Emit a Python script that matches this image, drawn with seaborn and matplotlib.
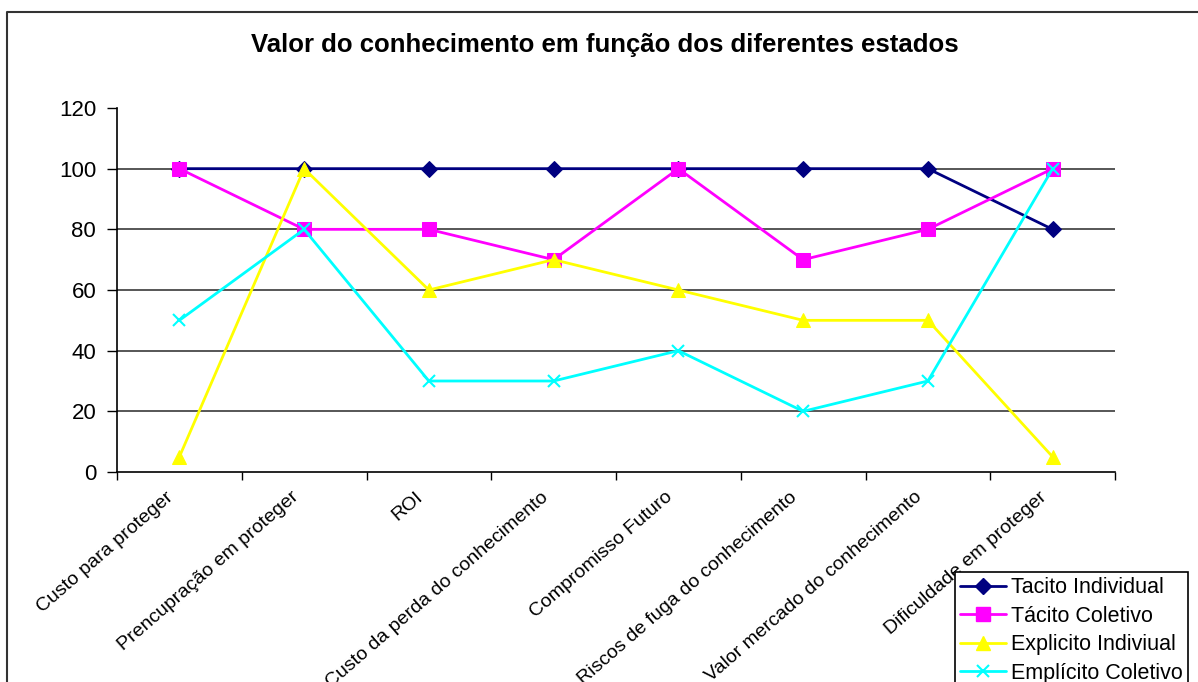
import numpy as np
import pandas as pd
import matplotlib
matplotlib.use("Agg")
import matplotlib.pyplot as plt
import matplotlib.transforms as mtransforms
from matplotlib.lines import Line2D
import seaborn as sns

categories = ["Custo para proteger", "Prencupração em proteger", "ROI",
              "Custo da perda do conhecimento", "Compromisso Futuro",
              "Riscos de fuga do conhecimento", "Valor mercado do conhecimento",
              "Dificuldade em proteger"]
tacito_individual = [100, 100, 100, 100, 100, 100, 100, 80]
tacito_coletivo = [100, 80, 80, 70, 100, 70, 80, 100]
explicito_individual = [5, 100, 60, 70, 60, 50, 50, 5]
emplicito_coletivo = [50, 80, 30, 30, 40, 20, 30, 100]
series_names = ["Tacito Individual", "Tácito Coletivo", "Explicito Indiviual", "Emplícito Coletivo"]
series_values = [tacito_individual, tacito_coletivo, explicito_individual, emplicito_coletivo]
y_ticks = [0, 20, 40, 60, 80, 100, 120]
title = "Valor do conhecimento em função dos diferentes estados"

colors = ["#000080", "#FF00FF", "#FFFF00", "#00FFFF"]
markers = ["D", "s", "^", "x"]
msizes = [8, 10, 10, 9]

sns.set_style("white")
plt.rcParams['font.family'] = ['Liberation Sans', 'DejaVu Sans']
plt.rcParams['text.color'] = 'black'
plt.rcParams['xtick.color'] = 'black'
plt.rcParams['ytick.color'] = 'black'
plt.rcParams['xtick.labelcolor'] = 'black'
plt.rcParams['ytick.labelcolor'] = 'black'

fig = plt.figure(figsize=(11.98, 6.82), dpi=100)
ax = fig.add_axes([117/1198, 1-472/682, (1115-117)/1198, (472-108)/682])

x = np.arange(len(categories))
for name, vals, c, m, ms in zip(series_names, series_values, colors, markers, msizes):
    df = pd.DataFrame({"x": x, "y": vals})
    kw = dict(markeredgecolor=c, markerfacecolor=c, markersize=ms)
    if m == "x":
        kw["markeredgewidth"] = 1.5
    sns.lineplot(data=df, x="x", y="y", ax=ax, color=c, marker=m, linewidth=2.0,
                 label=name, legend=False, **kw)

ax.set_xlim(-0.5, len(categories) - 0.5)
ax.set_ylim(0, 120)
ax.set_yticks(y_ticks)
ax.set_yticklabels([str(v) for v in y_ticks], fontsize=16)
ax.set_xticks(x)
ax.set_xticklabels([])
label_tf = ax.get_xaxis_transform() + mtransforms.ScaledTranslation(-8/100, -23/100, fig.dpi_scale_trans)
for xi, cat in zip(x, categories):
    ax.text(xi, 0, cat, transform=label_tf, rotation=41, rotation_mode="anchor",
            ha="right", va="center", fontsize=14, color="black", clip_on=False)
ax.set_xticks(np.arange(-0.5, len(categories)), minor=True)
ax.tick_params(axis="x", which="major", length=0)
ax.tick_params(axis="x", which="minor", length=6, width=1, color="black", direction="out", bottom=True)
ax.tick_params(axis="y", length=7, width=1, color="black", direction="out", left=True, pad=8)
ax.set_xlabel("")
ax.set_ylabel("")

for sp in ["top", "right"]:
    ax.spines[sp].set_visible(False)
for sp in ["left", "bottom"]:
    ax.spines[sp].set_color("black")
    ax.spines[sp].set_linewidth(1.2)

ax.yaxis.grid(True, color="#3a3a3a", linewidth=1.2)
ax.set_axisbelow(True)
for gl, v in zip(ax.get_ygridlines(), y_ticks):
    if v in (0, 120):
        gl.set_visible(False)

handles = [Line2D([0], [0], color=c, marker=m, markersize=ms, linewidth=2.0,
                  markeredgecolor=c, markerfacecolor=c, markeredgewidth=1.5 if m == "x" else 1)
           for c, m, ms in zip(colors, markers, msizes)]
leg = fig.legend(handles, series_names, loc="upper left",
                 bbox_to_anchor=(955/1198, 1-572/682), fontsize=15.5,
                 frameon=True, fancybox=False, framealpha=1, edgecolor="black",
                 handlelength=2.1, handletextpad=0.25, labelspacing=0.35,
                 borderpad=0.25, borderaxespad=0)
leg.get_frame().set_linewidth(1.2)

fig.text(605/1198, 1-45/682, title, ha="center", va="center",
         fontsize=18.5, fontweight="bold")

frame = Line2D([7/1198, 7/1198, 1.0], [0.0, 1-12/682, 1-12/682],
               transform=fig.transFigure, color="#333333", linewidth=1.5)
fig.add_artist(frame)

fig.savefig("out.png", dpi=100)
